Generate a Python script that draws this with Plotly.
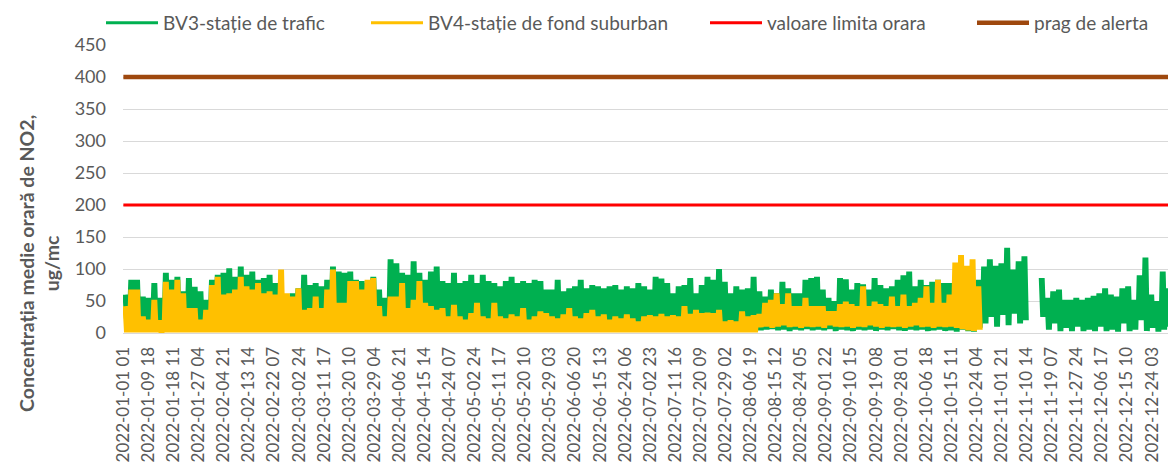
import plotly.graph_objects as go

# ---------------- data ----------------
BLOCK_HOURS = 48          # each value below = envelope of a 2‑day block
TICK_STEP = 209           # category interval between tick labels (hours)
N_HOURS = 8760

tick_labels = [
    "2022-01-01 01", "2022-01-09 18", "2022-01-18 11", "2022-01-27 04", "2022-02-04 21",
    "2022-02-13 14", "2022-02-22 07", "2022-03-02 24", "2022-03-11 17", "2022-03-20 10",
    "2022-03-29 04", "2022-04-06 21", "2022-04-15 14", "2022-04-24 07", "2022-05-02 24",
    "2022-05-11 17", "2022-05-20 10", "2022-05-29 03", "2022-06-06 20", "2022-06-15 13",
    "2022-06-24 06", "2022-07-02 23", "2022-07-11 16", "2022-07-20 09", "2022-07-29 02",
    "2022-08-06 19", "2022-08-15 12", "2022-08-24 05", "2022-09-01 22", "2022-09-10 15",
    "2022-09-19 08", "2022-09-28 01", "2022-10-06 18", "2022-10-15 11", "2022-10-24 04",
    "2022-11-01 21", "2022-11-10 14", "2022-11-19 07", "2022-11-27 24", "2022-12-06 17",
    "2022-12-15 10", "2022-12-24 03",
]

# BV3 - traffic station: block maxima / minima (ug/mc)
bv3_max = [
    60, 83, 83, 57, 55, 78, 55, 94, 83, 88,
    65, 86, 72, 65, 52, 83, 91, 94, 101, 88,
    104, 91, 96, 83, 86, 91, 78, 57, 52, 62,
    70, 91, 75, 78, 73, 83, 104, 96, 94, 96,
    83, 81, 78, 88, 68, 55, 115, 109, 94, 91,
    112, 94, 83, 96, 104, 81, 78, 94, 78, 81,
    91, 78, 91, 81, 78, 73, 81, 88, 78, 81,
    78, 83, 81, 68, 68, 83, 65, 70, 73, 83,
    70, 75, 73, 70, 73, 75, 68, 73, 70, 78,
    73, 68, 88, 85, 78, 62, 73, 75, 86, 62,
    75, 88, 83, 100, 80, 62, 73, 68, 70, 88,
    65, 57, 68, 62, 80, 70, 62, 62, 83, 86,
    88, 68, 55, 50, 86, 84, 68, 78, 76, 68,
    86, 75, 70, 73, 83, 90, 96, 73, 83, 75,
    80, 83, 78, 78, 75, 75, 75, 80, 83, 104,
    115, 105, 109, 133, 99, 112, 120, None, None, 86,
    55, 65, 68, 52, 52, 55, 52, 55, 58, 62,
    70, 60, 57, 70, 73, 52, 90, 118, 60, 50,
    96, 70, 60,
]
bv3_min = [
    20, 10, 12, 15, 10, 12, 3, 10, 12, 10,
    10, 12, 10, 8, 10, 10, 12, 10, 10, 12,
    10, 10, 12, 10, 10, 10, 8, 10, 8, 10,
    10, 8, 10, 10, 8, 10, 10, 12, 10, 10,
    10, 10, 10, 10, 8, 8, 10, 10, 10, 10,
    10, 10, 8, 10, 10, 8, 8, 10, 8, 8,
    8, 10, 8, 8, 10, 8, 8, 8, 8, 10,
    8, 8, 10, 8, 8, 8, 8, 10, 8, 8,
    8, 10, 8, 8, 8, 8, 8, 8, 8, 6,
    8, 8, 8, 8, 8, 8, 8, 10, 8, 8,
    8, 8, 8, 8, 6, 6, 6, 8, 8, 8,
    4, 5, 6, 4, 5, 3, 5, 4, 6, 4,
    5, 4, 6, 3, 5, 4, 3, 5, 4, 5,
    3, 5, 4, 6, 4, 3, 5, 4, 5, 3,
    4, 5, 3, 4, 2, 5, 3, 2, 8, 15,
    25, 10, 28, 12, 30, 15, 20, None, None, 25,
    5, 15, 3, 8, 3, 10, 3, 5, 3, 10,
    3, 5, 2, 15, 3, 5, 20, 3, 8, 2,
    5, 10, 5,
]

# BV4 - suburban background station: block maxima / minima (ug/mc)
bv4_max = [
    42, 68, 68, 26, 21, 52, 20, 80, 68, 83,
    62, 39, 39, 21, 36, 75, 88, 60, 62, 68,
    88, 73, 68, 78, 62, 65, 60, 99, 62, 57,
    70, 36, 39, 57, 39, 68, 99, 47, 47, 81,
    81, 68, 83, 86, 42, 26, 57, 57, 78, 39,
    52, 81, 47, 42, 36, 39, 26, 44, 26, 21,
    31, 47, 26, 23, 47, 26, 23, 29, 26, 39,
    21, 26, 34, 31, 26, 23, 29, 39, 26, 23,
    31, 36, 26, 29, 21, 26, 23, 29, 23, 18,
    26, 28, 26, 30, 26, 28, 26, 42, 30, 36,
    31, 32, 31, 36, 18, 20, 18, 34, 26, 28,
    30, 47, 52, 62, 45, 62, 42, 42, 55, 42,
    42, 42, 34, 34, 45, 49, 45, 42, 73, 42,
    49, 45, 42, 57, 42, 60, 42, 47, 55, 73,
    47, 83, 47, 60, 110, 122, 105, 115, 73, None,
    None, None, None, None, None, None, None, None, None, None,
    None, None, None, None, None, None, None, None, None, None,
    None, None, None, None, None, None, None, None, None, None,
    None, None, None,
]
bv4_min = [
    1, 1, 1, 1, 1, 1, 0, 1, 1, 1,
    1, 1, 1, 1, 1, 1, 1, 1, 1, 1,
    1, 1, 1, 1, 1, 1, 1, 1, 1, 1,
    1, 1, 1, 1, 1, 1, 1, 1, 1, 1,
    1, 1, 1, 1, 1, 1, 1, 1, 1, 1,
    1, 1, 1, 1, 1, 1, 1, 1, 1, 1,
    1, 1, 1, 1, 1, 1, 1, 1, 1, 1,
    1, 1, 1, 1, 1, 1, 1, 1, 1, 1,
    1, 1, 1, 1, 1, 1, 1, 1, 1, 1,
    1, 1, 1, 1, 1, 1, 1, 1, 1, 1,
    1, 1, 1, 1, 1, 1, 1, 1, 1, 1,
    9, 10, 8, 10, 12, 9, 10, 8, 10, 9,
    10, 8, 12, 10, 9, 10, 8, 10, 9, 12,
    10, 8, 10, 9, 10, 8, 10, 12, 9, 10,
    8, 10, 9, 10, 8, 6, 4, 3, 5, None,
    None, None, None, None, None, None, None, None, None, None,
    None, None, None, None, None, None, None, None, None, None,
    None, None, None, None, None, None, None, None, None, None,
    None, None, None,
]

limit_value = 200   # valoare limita orara
alert_value = 400   # prag de alerta

series_names = ["BV3-stație de trafic", "BV4-stație de fond suburban",
                "valoare limita orara", "prag de alerta"]
series_colors = ["#00B050", "#FFC000", "#FF0000", "#9E480E"]


# ---------------- helpers ----------------
def hourly_trace(maxima, minima):
    """Dense hourly-like line: oscillates between the block max and min."""
    xs, ys = [], []
    for k, (hi, lo) in enumerate(zip(maxima, minima)):
        base = k * BLOCK_HOURS
        for off, v in ((6, hi), (18, lo), (30, hi), (42, lo)):
            xs.append(base + off)
            ys.append(v)
    return xs, ys


GRAY = "#595959"
FONT = "Lato, 'Noto Sans', sans-serif"

fig = go.Figure()

x3, y3 = hourly_trace(bv3_max, bv3_min)
x4, y4 = hourly_trace(bv4_max, bv4_min)

fig.add_trace(go.Scatter(x=x3, y=y3, mode="lines", name=series_names[0],
                         line=dict(color=series_colors[0], width=3, simplify=False),
                         legend="legend", hoverinfo="skip"))
fig.add_trace(go.Scatter(x=x4, y=y4, mode="lines", name=series_names[1],
                         line=dict(color=series_colors[1], width=3, simplify=False),
                         legend="legend2", hoverinfo="skip"))
fig.add_trace(go.Scatter(x=[0, N_HOURS - 1], y=[limit_value, limit_value], mode="lines",
                         name=series_names[2], line=dict(color=series_colors[2], width=3),
                         legend="legend3"))
fig.add_trace(go.Scatter(x=[0, N_HOURS - 1], y=[alert_value, alert_value], mode="lines",
                         name=series_names[3], line=dict(color=series_colors[3], width=4.5),
                         legend="legend4"))

L, R, T, B = 123, 0, 45, 135
W, H = 1168, 468
pw = W - L - R
ph = H - T - B


def px_x(x):
    return (x - L) / pw


def px_y(y):
    return (H - B - y) / ph


legend_common = dict(orientation="h", yanchor="middle", xanchor="left",
                     font=dict(family=FONT, size=19, color=GRAY),
                     bgcolor="rgba(0,0,0,0)", borderwidth=0, y=px_y(23),
                     itemwidth=52)
# text start positions in the reference: 163, 428, 767, 1034
legend_x = [163 - 62, 428 - 62, 767 - 62, 1034 - 62]

fig.update_layout(
    width=W, height=H,
    margin=dict(l=L, r=R, t=T, b=B, pad=0, autoexpand=False),
    paper_bgcolor="white", plot_bgcolor="white",
    font=dict(family=FONT, color=GRAY),
    showlegend=True,
    legend=dict(x=px_x(legend_x[0]), **legend_common),
    legend2=dict(x=px_x(legend_x[1]), **legend_common),
    legend3=dict(x=px_x(legend_x[2]), **legend_common),
    legend4=dict(x=px_x(legend_x[3]), **legend_common),
    xaxis=dict(
        range=[-3, 8702],
        tickmode="array",
        tickvals=[i * TICK_STEP for i in range(len(tick_labels))],
        ticktext=tick_labels,
        tickangle=-90,
        tickfont=dict(family=FONT, size=17, color=GRAY),
        showgrid=False, zeroline=False,
        showline=True, linecolor="#D9D9D9", linewidth=1,
        ticks="", ticklabelstandoff=6,
    ),
    yaxis=dict(
        range=[0, 450], dtick=50, tick0=0,
        tickfont=dict(family=FONT, size=18, color=GRAY),
        showgrid=True, gridcolor="#D9D9D9", gridwidth=1,
        zeroline=False, showline=False, ticks="",
        ticklabelstandoff=16,
    ),
    annotations=[dict(
        text="<b>Concentrația medie orară de NO2,<br>ug/mc</b>",
        textangle=-90, xref="paper", yref="paper",
        x=px_x(39), y=px_y(264), xanchor="center", yanchor="middle",
        showarrow=False, font=dict(family=FONT, size=19.5, color=GRAY),
    )],
)

fig.write_html("out.html",
               config={"displayModeBar": False},
               post_script="document.body.style.margin='0';document.body.style.overflow='hidden';")
